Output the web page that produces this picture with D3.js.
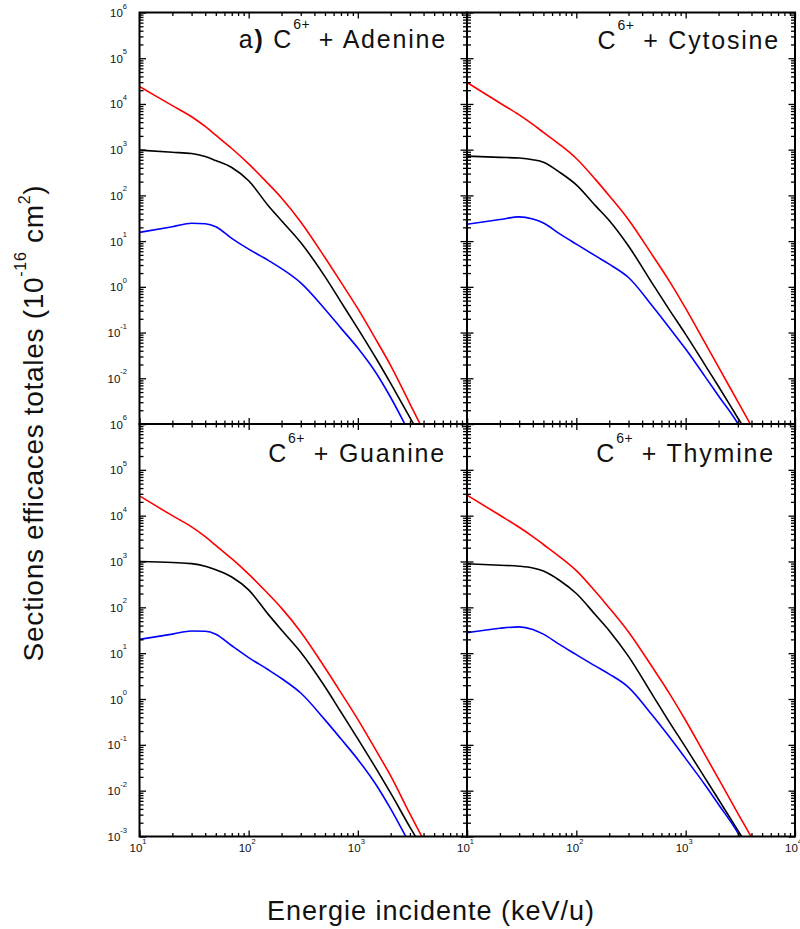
<!DOCTYPE html>
<html>
<head>
<meta charset="utf-8">
<script src="https://cdn.jsdelivr.net/npm/d3@7"></script>
<style>
  html, body { margin: 0; padding: 0; background: #fff; }
  svg { display: block; font-family: "Liberation Sans", Arial, sans-serif; }
</style>
</head>
<body>
<svg id="chart" width="800" height="929"></svg>
<script>
// ---------- data (keV/u, 10^-16 cm^2) ----------
const energies = [10, 20, 30, 40, 50, 70, 100, 150, 200, 300, 500, 700, 1000, 1500, 2000, 3000, 4000, 5000];

const adenineRed   = [24000, 9200, 5250, 3220, 2070, 1060, 490, 183, 88, 26.3, 4.37, 1.27, 0.333, 0.0637, 0.019, 0.00277, 0.00071, 0.000245];
const adenineBlack = [977, 877, 822, 705, 577, 407, 209, 61, 27.9, 9.3, 1.67, 0.469, 0.122, 0.0251, 0.0077, 0.00138, 0.00041, 0.00015];
const adenineBlue  = [15.5, 20.6, 24.5, 23.9, 20.7, 11.5, 6.66, 3.85, 2.5, 1.22, 0.324, 0.125, 0.0458, 0.0121, 0.0038, 0.00062, 0.00018, 0.00006];

const cytosineRed   = [29500, 10500, 5750, 3570, 2390, 1310, 641, 221, 98, 29.4, 4.79, 1.4, 0.337, 0.060, 0.0176, 0.00307, 0.00089, 0.00032];
const cytosineBlack = [724, 679, 655, 603, 533, 324, 170, 59, 28.2, 7.8, 1.15, 0.33, 0.091, 0.0197, 0.0066, 0.00135, 0.00044, 0.00016];
const cytosineBlue  = [23.4, 29.6, 33.9, 30.3, 24.8, 14.6, 8.6, 4.74, 3.13, 1.6, 0.372, 0.133, 0.0435, 0.011, 0.0041, 0.00102, 0.00028, 0.0001];

const guanineRed   = [27000, 10000, 5700, 3500, 2250, 1150, 530, 200, 96, 29, 4.8, 1.38, 0.36, 0.069, 0.021, 0.0031, 0.00085, 0.0003];
const guanineBlack = [1000, 950, 900, 790, 660, 460, 240, 72, 32, 10.5, 1.85, 0.52, 0.135, 0.028, 0.0088, 0.0016, 0.0005, 0.00018];
const guanineBlue  = [20, 26, 30.5, 30, 26, 14.5, 8.0, 4.4, 2.8, 1.35, 0.35, 0.135, 0.048, 0.0125, 0.0040, 0.00068, 0.0002, 0.00007];

const thymineRed   = [28000, 10200, 5600, 3500, 2350, 1280, 630, 218, 97, 29, 4.8, 1.4, 0.34, 0.061, 0.018, 0.0032, 0.00095, 0.00035];
const thymineBlack = [890, 830, 790, 720, 620, 390, 200, 68, 31, 8.5, 1.2, 0.33, 0.088, 0.019, 0.0064, 0.00135, 0.00045, 0.00016];
const thymineBlue  = [28, 35, 37.5, 33, 26, 15.5, 9.3, 5.2, 3.5, 1.8, 0.43, 0.155, 0.05, 0.0135, 0.005, 0.0012, 0.00033, 0.0001];

const panelTargets = ["Adenine", "Cytosine", "Guanine", "Thymine"];
const panelPrefix  = ["a)", "", "", ""];
const seriesColors = ["#ff0000", "#000000", "#0000ff"];
const xMajorTicks = [10, 100, 1000, 10000];
const yExponents  = [6, 5, 4, 3, 2, 1, 0, -1, -2, -3];
const xTitle = "Energie incidente (keV/u)";

const panelSeries = [
  [adenineRed, adenineBlack, adenineBlue],
  [cytosineRed, cytosineBlack, cytosineBlue],
  [guanineRed, guanineBlack, guanineBlue],
  [thymineRed, thymineBlack, thymineBlue]
];

// ---------- layout ----------
const svg = d3.select("#chart");
const X0 = 139.5, XM = 467, X1 = 795;
const Y0 = 12.5, YM = 424, Y1 = 836.5;
const cols = [[X0, XM], [XM, X1]];
const rows = [[Y0, YM], [YM, Y1]];

const xMinor = [];
[10, 100, 1000].forEach(d => { for (let k = 2; k <= 9; k++) xMinor.push(d * k); });
const yMinor = [];
for (let e = -3; e < 6; e++) for (let k = 2; k <= 9; k++) yMinor.push(k * Math.pow(10, e));
const yMajor = yExponents.map(e => Math.pow(10, e));

function pow10Label(sel, exp, baseSize, supSize, supDy) {
  sel.append("tspan").text("10").attr("font-size", baseSize);
  sel.append("tspan").text(exp).attr("font-size", supSize).attr("dy", supDy);
}

const clipDefs = svg.append("defs");

panelTargets.forEach((name, i) => {
  const c = i % 2, r = Math.floor(i / 2);
  const [left, right] = cols[c];
  const [top, bottom] = rows[r];
  const x = d3.scaleLog().domain([10, 10000]).range([left, right]);
  const y = d3.scaleLog().domain([1e-3, 1e6]).range([bottom, top]);
  const g = svg.append("g");

  clipDefs.append("clipPath").attr("id", "clip" + i)
    .append("rect").attr("x", left).attr("y", top)
    .attr("width", right - left).attr("height", bottom - top);

  // curves
  const line = d3.line()
    .x((d, j) => x(energies[j]))
    .y(d => y(d))
    .curve(d3.curveMonotoneX);
  panelSeries[i].forEach((vals, s) => {
    g.append("path")
      .attr("d", line(vals))
      .attr("fill", "none")
      .attr("stroke", seriesColors[s])
      .attr("stroke-width", 1.6)
      .attr("clip-path", `url(#clip${i})`);
  });

  // ticks (pointing inward)
  const tickStyle = sel => {
    sel.select(".domain").remove();
    sel.selectAll("line").attr("stroke", "#000").attr("stroke-width", 1.3);
  };
  const addAxis = (axisFn, scale, vals, size, transform) => {
    g.append("g").attr("transform", transform)
      .call(axisFn(scale).tickValues(vals).tickSize(-size).tickFormat(""))
      .call(tickStyle);
  };
  addAxis(d3.axisBottom, x, xMajorTicks, 6, `translate(0,${bottom})`);
  addAxis(d3.axisBottom, x, xMinor, 3.5, `translate(0,${bottom})`);
  addAxis(d3.axisTop, x, xMajorTicks, 6, `translate(0,${top})`);
  addAxis(d3.axisTop, x, xMinor, 3.5, `translate(0,${top})`);
  addAxis(d3.axisLeft, y, yMajor, 6.5, `translate(${left},0)`);
  addAxis(d3.axisLeft, y, yMinor, 4, `translate(${left},0)`);
  addAxis(d3.axisRight, y, yMajor, 6.5, `translate(${right},0)`);
  addAxis(d3.axisRight, y, yMinor, 4, `translate(${right},0)`);

  // frame
  g.append("rect")
    .attr("x", left).attr("y", top)
    .attr("width", right - left).attr("height", bottom - top)
    .attr("fill", "none").attr("stroke", "#000").attr("stroke-width", 2);

  // y tick labels (left column)
  if (c === 0) {
    const exps = r === 0 ? yExponents.filter(e => e > -3) : yExponents;
    exps.forEach(e => {
      const t = svg.append("text")
        .attr("x", 127).attr("y", y(Math.pow(10, e)) + 4.5)
        .attr("text-anchor", "end").attr("fill", "#111");
      pow10Label(t, String(e), 11.5, 7.5, -8.5);
    });
  }
  // x tick labels (bottom row)
  if (r === 1) {
    const xs = c === 0 ? xMajorTicks.slice(0, 3) : xMajorTicks;
    xs.forEach(v => {
      const t = svg.append("text")
        .attr("x", x(v) - 1.5).attr("y", 852)
        .attr("text-anchor", "middle").attr("fill", "#111");
      pow10Label(t, String(Math.round(Math.log10(v))), 11.5, 7.5, -8.5);
    });
  }
});

// panel titles
const titlePos = [[447, 47.5], [780, 49], [446, 462], [775, 462]];
panelTargets.forEach((name, i) => {
  const t = svg.append("text")
    .attr("x", titlePos[i][0]).attr("y", titlePos[i][1])
    .attr("text-anchor", "end").attr("font-size", 25)
    .attr("letter-spacing", 1.8).attr("fill", "#111");
  if (panelPrefix[i]) {
    t.append("tspan").text("a");
    t.append("tspan").text(") ").attr("font-weight", "bold");
  }
  t.append("tspan").text("C");
  t.append("tspan").text("6+").attr("font-size", 14).attr("dy", -19).attr("letter-spacing", 0.5);
  t.append("tspan").text(" + " + name).attr("dy", 19);
});

// axis titles
svg.append("text")
  .attr("x", 431).attr("y", 920)
  .attr("text-anchor", "middle").attr("font-size", 27)
  .attr("letter-spacing", 1).attr("fill", "#111")
  .text(xTitle);

const yt = svg.append("text")
  .attr("transform", "translate(43,423) rotate(-90)")
  .attr("text-anchor", "middle").attr("font-size", 28)
  .attr("letter-spacing", 0.7).attr("fill", "#111");
yt.append("tspan").text("Sections efficaces totales (10");
yt.append("tspan").text("-16").attr("font-size", 16).attr("dy", -17);
yt.append("tspan").text(" cm").attr("dy", 17);
yt.append("tspan").text("2").attr("font-size", 16).attr("dy", -13);
yt.append("tspan").text(")").attr("dy", 13);
</script>
</body>
</html>
